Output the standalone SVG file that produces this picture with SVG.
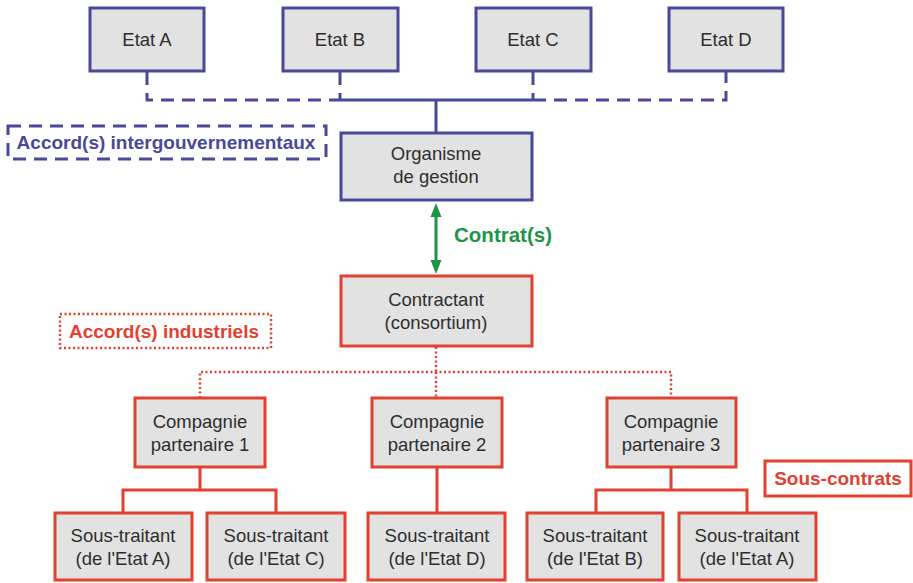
<svg xmlns="http://www.w3.org/2000/svg" width="913" height="583" viewBox="0 0 913 583">
<defs>
<style>
text{font-family:"Liberation Sans",Arial,sans-serif;font-size:18.5px;text-anchor:middle;fill:#2e2e2e}
.bb{fill:#e2e2e2;stroke:#4a4898;stroke-width:3}
.rb{fill:#e2e2e2;stroke:#e2412f;stroke-width:3}
.bl{fill:none;stroke:#4a4898;stroke-width:3}
.bd{fill:none;stroke:#4a4898;stroke-width:3;stroke-dasharray:13 8}
.rl{fill:none;stroke:#e2412f;stroke-width:3}
.rd{fill:none;stroke:#e2412f;stroke-width:2.5;stroke-dasharray:2 2.5}
.lbl{font-weight:bold;font-size:19px}
.ah{fill:#1e9448}
</style>
</defs>
<rect width="913" height="583" fill="#fff"/>
<g id="connectors">
<path class="bd" d="M147,72 V100 H340 M533,100 H726 V72 M340,72 V100 M533,72 V100"/>
<path class="bl" d="M340,100 H533 M436,100 V133"/>
<line x1="436" y1="214" x2="436" y2="262" stroke="#1e9448" stroke-width="3"/>
<polygon class="ah" points="436,203 430.5,217 441.5,217"/>
<polygon class="ah" points="436,274 430.5,260 441.5,260"/>
<path class="rd" d="M436,347 V372 M200,398 V372 H671 V398 M436,372 V398"/>
<path class="rl" d="M200,467 V490 M123,513 V490 H276 V513 M437,467 V513 M671,467 V490 M596,513 V490 H747 V513"/>
</g>
<g id="etatA"><rect class="bb" x="90" y="8" width="114" height="63"/><text x="147" y="46">Etat A</text></g>
<g id="etatB"><rect class="bb" x="283" y="8" width="115" height="63"/><text x="340" y="46">Etat B</text></g>
<g id="etatC"><rect class="bb" x="476" y="8" width="115" height="63"/><text x="533" y="46">Etat C</text></g>
<g id="etatD"><rect class="bb" x="669" y="8" width="114" height="63"/><text x="726" y="46">Etat D</text></g>
<g id="accordInter"><rect class="bd" x="8" y="126" width="318" height="33"/><text class="lbl" x="166" y="149" style="fill:#4a4898">Accord(s) intergouvernementaux</text></g>
<g id="organisme"><rect class="bb" x="341" y="133" width="191" height="67"/><text x="436" y="160">Organisme</text><text x="436" y="183">de gestion</text></g>
<g id="contrats"><text class="lbl" x="503" y="242" style="fill:#1e9448;font-size:20.5px">Contrat(s)</text></g>
<g id="contractant"><rect class="rb" x="341" y="276" width="191" height="70"/><text x="436" y="306">Contractant</text><text x="436" y="329">(consortium)</text></g>
<g id="accordInd"><rect class="rd" x="60" y="314" width="211" height="34"/><text class="lbl" x="164" y="338" style="fill:#e2412f">Accord(s) industriels</text></g>
<g id="comp1"><rect class="rb" x="135" y="398" width="130" height="69"/><text x="200" y="428">Compagnie</text><text x="200" y="451">partenaire 1</text></g>
<g id="comp2"><rect class="rb" x="372" y="398" width="130" height="69"/><text x="437" y="428">Compagnie</text><text x="437" y="451">partenaire 2</text></g>
<g id="comp3"><rect class="rb" x="607" y="398" width="129" height="69"/><text x="671" y="428">Compagnie</text><text x="671" y="451">partenaire 3</text></g>
<g id="sousContrats"><rect class="rl" x="765" y="461" width="146" height="35" style="fill:#fff"/><text class="lbl" x="838" y="485" style="fill:#e2412f">Sous-contrats</text></g>
<g id="st1"><rect class="rb" x="55" y="513" width="137" height="67"/><text x="123" y="542">Sous-traitant</text><text x="123" y="565">(de l'Etat A)</text></g>
<g id="st2"><rect class="rb" x="207" y="513" width="138" height="67"/><text x="276" y="542">Sous-traitant</text><text x="276" y="565">(de l'Etat C)</text></g>
<g id="st3"><rect class="rb" x="368" y="513" width="137" height="67"/><text x="437" y="542">Sous-traitant</text><text x="437" y="565">(de l'Etat D)</text></g>
<g id="st4"><rect class="rb" x="527" y="513" width="136" height="67"/><text x="595" y="542">Sous-traitant</text><text x="595" y="565">(de l'Etat B)</text></g>
<g id="st5"><rect class="rb" x="679" y="513" width="137" height="67"/><text x="747" y="542">Sous-traitant</text><text x="747" y="565">(de l'Etat A)</text></g>
</svg>
